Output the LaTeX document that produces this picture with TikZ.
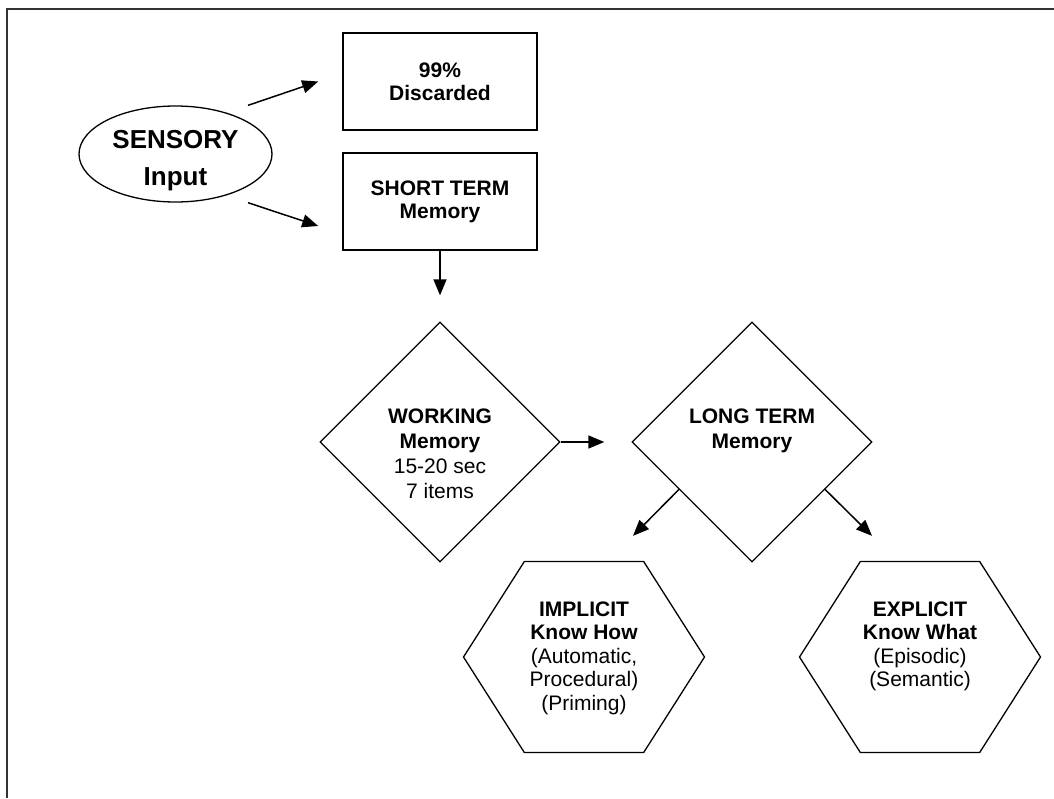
\documentclass[tikz,border=0pt]{standalone}
\usepackage{fontspec}
\setmainfont{Liberation Sans}
\usetikzlibrary{shapes.geometric,shapes.symbols,arrows.meta}
% lines hung from the first baseline
\newcommand{\memlines}[1]{\begin{tabular}[t]{@{}c@{}}#1\end{tabular}}

\begin{document}
\begin{tikzpicture}[x=1pt, y=-1pt, >={Triangle[length=16pt,width=13pt]},
  membox/.style={draw, line width=1.6pt, minimum width=194pt, minimum height=97pt, inner sep=0pt, align=center, font=\fontsize{21}{23}\selectfont\bfseries},
  memdia/.style={diamond, draw, line width=1.3pt, minimum width=240pt, minimum height=240pt, inner sep=0pt, font=\fontsize{21}{25}\selectfont, text height=16pt, text depth=54pt},
  memhex/.style={signal, signal to=west and east, signal pointer angle=115, draw, line width=1.3pt, minimum width=241pt, minimum height=191pt, inner sep=0pt, font=\fontsize{21}{23.5}\selectfont, text height=16pt, text depth=98pt},
  link/.style={->, line width=1.5pt}]

  \useasboundingbox (0,0) rectangle (1054,798);
  \draw[line width=1.3pt, black!80] (7,798) -- (7,9) -- (1054,9);

  \node[ellipse, draw, line width=1.3pt, minimum width=193pt, minimum height=96pt, inner sep=0pt, font=\fontsize{26}{37}\selectfont\bfseries, text height=19pt, text depth=31pt] (sensory) at (175.5,154) {\memlines{SENSORY\\Input}};

  \node[membox] (disc) at (440,81.5) {99\%\\Discarded};
  \node[membox] (stm) at (440,201.5) {SHORT TERM\\Memory};

  \node[memdia] (work) at (440,442) {\memlines{\textbf{WORKING}\\\textbf{Memory}\\15-20 sec\\7 items}};
  \node[memdia] (lt) at (752,442) {\memlines{\textbf{LONG TERM}\\\textbf{Memory}}};

  \node[memhex] (impl) at (584,657) {\memlines{\textbf{IMPLICIT}\\\textbf{Know How}\\(Automatic,\\Procedural)\\(Priming)}};
  \node[memhex] (expl) at (920,657) {\memlines{\textbf{EXPLICIT}\\\textbf{Know What}\\(Episodic)\\(Semantic)}};

  \draw[link] ([xshift=72.5pt]sensory.north) -- ([xshift=-24pt]disc.west);
  \draw[link] ([xshift=72.5pt]sensory.south) -- ([shift={(-24,24.5)}]stm.west);
  \draw[link, shorten >=26pt] (stm) -- (work);
  \draw[link, shorten >=27pt] (work) -- (lt);
  \draw[link] (lt.213) -- ([shift={(49,-25)}]impl.north);
  \draw[link] (lt.327) -- ([shift={(-48,-25)}]expl.north);

\end{tikzpicture}
\end{document}
